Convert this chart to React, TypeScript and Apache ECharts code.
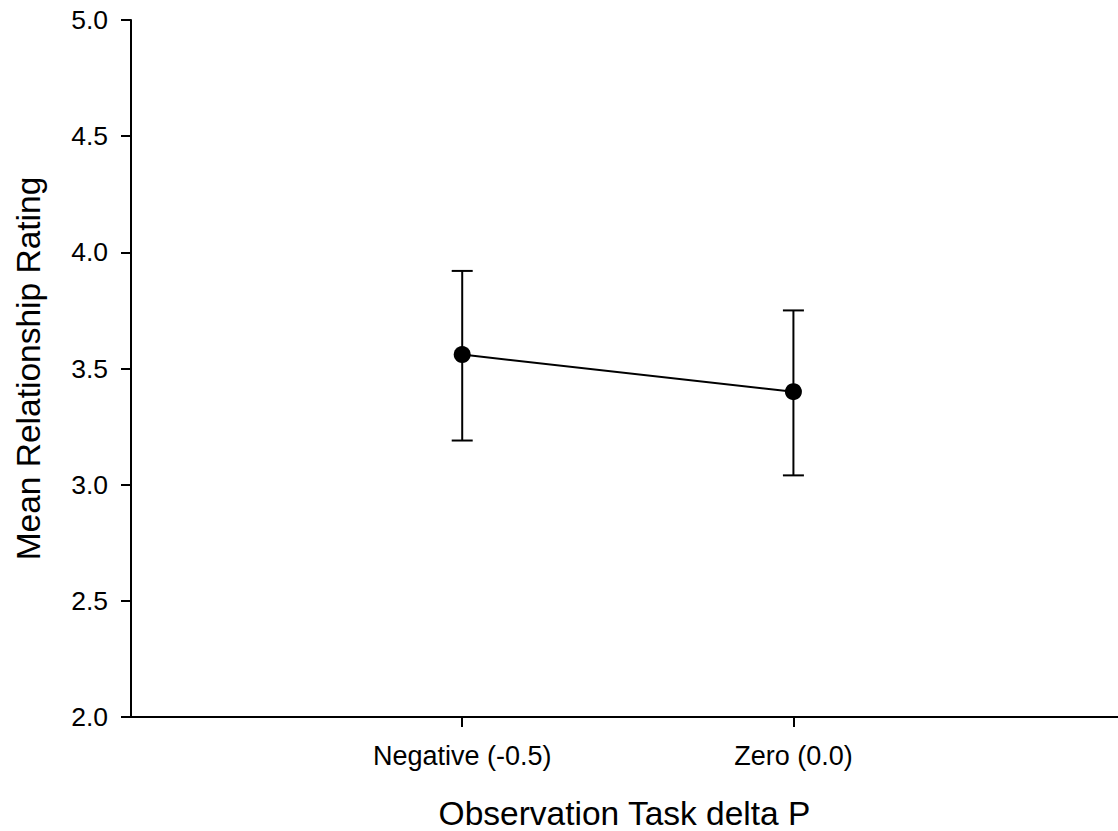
import React, { useEffect, useRef } from "react";
import * as echarts from "echarts";

const categories = ["Negative (-0.5)", "Zero (0.0)"];
const deltaP = [-0.5, 0.0];
const means = [3.56, 3.4];
const upper = [3.92, 3.75];
const lower = [3.19, 3.04];

const xTitle = "Observation Task delta P";
const yTitle = "Mean Relationship Rating";

const FONT = "'Liberation Sans', Arial, Helvetica, sans-serif";

export default function App() {
  const ref = useRef<HTMLDivElement>(null);
  useEffect(() => {
    if (!ref.current) return;
    const chart = echarts.init(ref.current, undefined, { renderer: "svg" });
    const pointData = deltaP.map((x, i) => [x, means[i]]);
    const errData = deltaP.map((x, i) => [x, lower[i], upper[i]]);
    chart.setOption({
      animation: false,
      backgroundColor: "#ffffff",
      textStyle: { fontFamily: FONT, color: "#000" },
      grid: { left: 131, right: 0, top: 20, bottom: 114, containLabel: false, outerBoundsMode: "none" },
      xAxis: {
        type: "value",
        min: -1,
        max: 0.49,
        name: xTitle,
        nameLocation: "middle",
        nameGap: 79,
        nameTextStyle: { fontSize: 33.5, color: "#000", fontFamily: FONT },
        axisLine: { show: true, onZero: false, lineStyle: { color: "#000", width: 2 } },
        axisTick: {
          show: true,
          length: 10,
          customValues: deltaP,
          lineStyle: { color: "#000", width: 2 },
        },
        axisLabel: {
          customValues: deltaP,
          fontSize: 27,
          color: "#000",
          fontFamily: FONT,
          margin: 25,
          formatter: (v: number) => {
            const idx = deltaP.findIndex((d) => Math.abs(d - v) < 1e-9);
            return idx >= 0 ? categories[idx] : "";
          },
        },
        splitLine: { show: false },
      },
      yAxis: {
        type: "value",
        min: 2,
        max: 5,
        interval: 0.5,
        name: yTitle,
        nameLocation: "middle",
        nameGap: 86,
        nameTextStyle: { fontSize: 33.5, color: "#000", fontFamily: FONT },
        axisLine: { show: true, onZero: false, lineStyle: { color: "#000", width: 2 } },
        axisTick: { show: true, length: 10, lineStyle: { color: "#000", width: 2 } },
        axisLabel: {
          fontSize: 26.5,
          color: "#000",
          fontFamily: FONT,
          margin: 23,
          formatter: (v: number) => v.toFixed(1),
        },
        splitLine: { show: false },
      },
      series: [
        {
          type: "custom",
          data: errData,
          z: 2,
          renderItem: (params: any, api: any) => {
            const x = api.value(0);
            const lo = api.coord([x, api.value(1)]);
            const hi = api.coord([x, api.value(2)]);
            const hw = 10.5;
            const style = { stroke: "#000", lineWidth: 2 };
            return {
              type: "group",
              children: [
                { type: "line", shape: { x1: lo[0], y1: lo[1], x2: hi[0], y2: hi[1] }, style },
                { type: "line", shape: { x1: hi[0] - hw, y1: hi[1], x2: hi[0] + hw, y2: hi[1] }, style },
                { type: "line", shape: { x1: lo[0] - hw, y1: lo[1], x2: lo[0] + hw, y2: lo[1] }, style },
              ],
            };
          },
        },
        {
          type: "line",
          data: pointData,
          z: 3,
          symbol: "circle",
          symbolSize: 17,
          itemStyle: { color: "#000" },
          lineStyle: { color: "#000", width: 2 },
        },
      ],
    });
    return () => chart.dispose();
  }, []);
  return (
    <div
      ref={ref}
      style={{ position: "fixed", left: 0, top: 0, width: 1118, height: 831, background: "#fff" }}
    />
  );
}
